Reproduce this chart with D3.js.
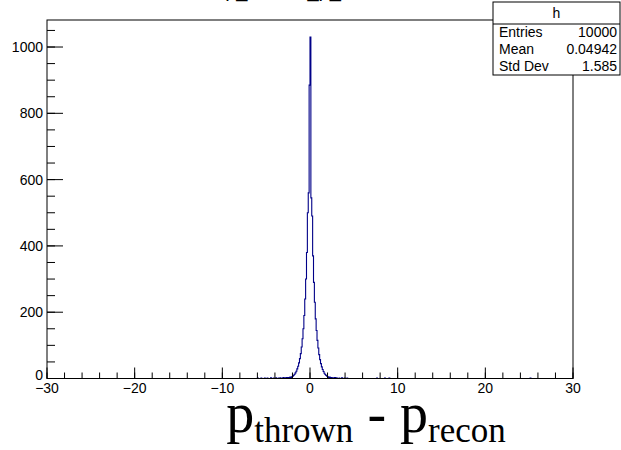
<!DOCTYPE html>
<html>
<head>
<meta charset="utf-8">
<script src="https://cdn.jsdelivr.net/npm/d3@7"></script>
<style>
html,body{margin:0;padding:0;background:#fff;}
svg{display:block;}
</style>
</head>
<body>
<svg id="chart" width="621" height="450"></svg>
<script>
// ---- data ----
const histName = "h";
const histTitle = "p_thrown_p_recon";
const xRange = [-30, 30];
const nBins = 600;
const binCenters = [
  -5.95,-5.55,-5.15,-4.85,-4.45,-4.15,-3.85,-3.55,-3.35,-3.05,-2.85,-2.65,-2.45,-2.25,-2.05,
  -1.95,-1.85,-1.75,-1.65,-1.55,-1.45,-1.35,-1.25,-1.15,-1.05,-0.95,-0.85,-0.75,-0.65,-0.55,-0.45,-0.35,-0.25,-0.15,-0.05,
  0.05,0.15,0.25,0.35,0.45,0.55,0.65,0.75,0.85,0.95,1.05,1.15,1.25,1.35,1.45,1.55,1.65,1.75,1.85,1.95,
  2.05,2.25,2.45,2.65,2.85,3.05,3.35,3.65,3.95,4.25,7.65,8.55,9.05,25.15
];
const binCounts = [
  1,1,1,1,2,1,2,1,2,3,2,3,3,4,5,
  7,10,13,17,22,29,37,47,60,75,95,120,150,190,240,300,380,500,560,885,
  1030,545,490,370,290,230,180,145,115,92,72,57,45,35,27,21,16,12,9,7,
  5,4,3,2,3,2,1,2,1,1,1,1,1,1
];
const yMax = 1081.5;
const xTicks = [-30,-20,-10,0,10,20,30];
const yTicks = [0,200,400,600,800,1000];
const statLabels = ["Entries","Mean","Std Dev"];
const statValues = ["10000","0.04942","1.585"];

// ---- layout ----
const frame = {left:47, right:573, top:20, bottom:378.5};
const svg = d3.select("#chart");
const x = d3.scaleLinear().domain(xRange).range([frame.left, frame.right]);
const y = d3.scaleLinear().domain([0, yMax]).range([frame.bottom, frame.top]);
const tickFont = "'Liberation Sans', Arial, Helvetica, sans-serif";

svg.append("rect").attr("width",621).attr("height",450).attr("fill","#fff");

// title (cut off at the top in the reference)
svg.append("text")
  .attr("x", 308).attr("y", -3)
  .attr("text-anchor","middle")
  .attr("font-family", tickFont).attr("font-size", 20)
  .attr("fill","#000")
  .text(histTitle);

// histogram counts per bin
const binWidth = (xRange[1]-xRange[0])/nBins;
const counts = new Array(nBins).fill(0);
binCenters.forEach((c,i)=>{
  const idx = Math.floor((c - xRange[0])/binWidth);
  if (idx>=0 && idx<nBins) counts[idx] += binCounts[i];
});
const pts = [[xRange[0],0]];
counts.forEach((c,i)=>{
  const lo = xRange[0] + i*binWidth, hi = lo + binWidth;
  pts.push([lo,c]); pts.push([hi,c]);
});
pts.push([xRange[1],0]);
const line = d3.line().x(d=>x(d[0])).y(d=>y(d[1]));
svg.append("path")
  .attr("d", line(pts))
  .attr("fill","none")
  .attr("stroke","#000088")
  .attr("stroke-width",1.1)
  .attr("stroke-linejoin","miter");

// frame
svg.append("rect")
  .attr("x", frame.left).attr("y", frame.top)
  .attr("width", frame.right-frame.left).attr("height", frame.bottom-frame.top)
  .attr("fill","none").attr("stroke","#000").attr("stroke-width",1);

// x axis
const xMinor = d3.range(xRange[0], xRange[1]+0.001, 2);
const gx = svg.append("g").attr("transform",`translate(0,${frame.bottom})`);
gx.selectAll("line.minor").data(xMinor).enter().append("line")
  .attr("x1",d=>x(d)).attr("x2",d=>x(d)).attr("y1",0).attr("y2",-6)
  .attr("stroke","#000");
gx.selectAll("line.major").data(xTicks).enter().append("line")
  .attr("x1",d=>x(d)).attr("x2",d=>x(d)).attr("y1",0).attr("y2",-11)
  .attr("stroke","#000");
gx.selectAll("text").data(xTicks).enter().append("text")
  .attr("x",d=>x(d)).attr("y",14)
  .attr("text-anchor","middle")
  .attr("font-family",tickFont).attr("font-size",14)
  .text(d=> d<0 ? "\u2212"+Math.abs(d) : String(d));

// y axis
const yMinor = d3.range(0, yMax, 50);
const gy = svg.append("g").attr("transform",`translate(${frame.left},0)`);
gy.selectAll("line.minor").data(yMinor).enter().append("line")
  .attr("y1",d=>y(d)).attr("y2",d=>y(d)).attr("x1",0).attr("x2",8)
  .attr("stroke","#000");
gy.selectAll("line.major").data(yTicks).enter().append("line")
  .attr("y1",d=>y(d)).attr("y2",d=>y(d)).attr("x1",0).attr("x2",16)
  .attr("stroke","#000");
gy.selectAll("text").data(yTicks).enter().append("text")
  .attr("x",-4).attr("y",d=>y(d) - (d===0?3:0))
  .attr("dy","0.35em")
  .attr("text-anchor","end")
  .attr("font-family",tickFont).attr("font-size",14)
  .text(d=>String(d));

// x axis title
const xt = svg.append("text")
  .attr("x", 366).attr("y", 432)
  .attr("text-anchor","middle")
  .attr("font-family","'Liberation Serif','Times New Roman',serif")
  .attr("fill","#000");
xt.append("tspan").attr("font-size",56).text("p");
xt.append("tspan").attr("font-size",35).attr("dy",10).text("thrown");
xt.append("tspan").attr("font-size",56).attr("dy",-10).text(" - p");
xt.append("tspan").attr("font-size",35).attr("dy",10).text("recon");

// stats box
const box = {x:493, y:2, w:127, h:73, hdr:22};
const gs = svg.append("g");
gs.append("rect").attr("x",box.x).attr("y",box.y).attr("width",box.w).attr("height",box.h)
  .attr("fill","#fff").attr("stroke","#000").attr("stroke-width",1);
gs.append("line").attr("x1",box.x).attr("x2",box.x+box.w)
  .attr("y1",box.y+box.hdr).attr("y2",box.y+box.hdr).attr("stroke","#000");
gs.append("text").attr("x",box.x+box.w/2).attr("y",box.y+11).attr("dy","0.35em")
  .attr("text-anchor","middle").attr("font-family",tickFont).attr("font-size",14)
  .text(histName);
const rowH = (box.h-box.hdr)/statLabels.length;
statLabels.forEach((lab,i)=>{
  const cy = box.y+box.hdr + rowH*(i+0.5);
  gs.append("text").attr("x",box.x+6).attr("y",cy).attr("dy","0.35em")
    .attr("font-family",tickFont).attr("font-size",14).text(lab);
  gs.append("text").attr("x",box.x+box.w-3).attr("y",cy).attr("dy","0.35em")
    .attr("text-anchor","end").attr("font-family",tickFont).attr("font-size",14).text(statValues[i]);
});
</script>
</body>
</html>
